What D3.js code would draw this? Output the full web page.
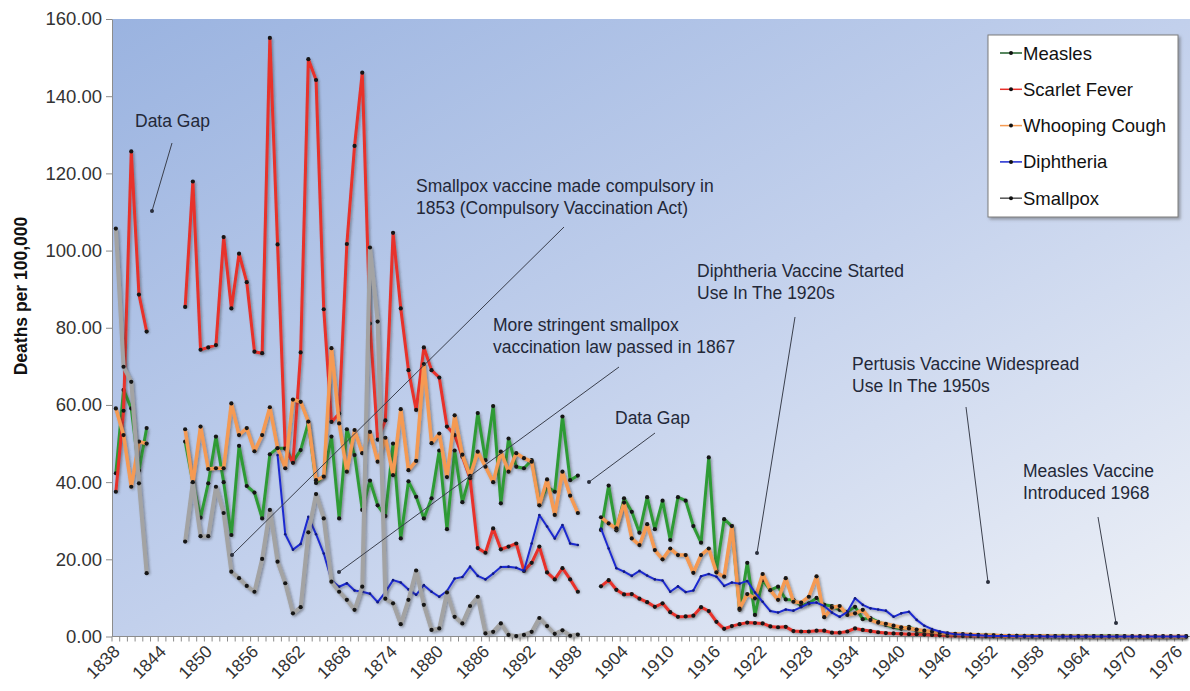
<!DOCTYPE html>
<html><head><meta charset="utf-8">
<script src="https://cdn.jsdelivr.net/npm/d3@7"></script>
<style>body{margin:0;background:#fff;} svg{display:block;font-family:"Liberation Sans",Arial,sans-serif;}</style>
</head><body><svg id="c" width="1190" height="691"></svg>
<script>
// ---------- DATA ----------
const firstYear = 1838, lastYear = 1977;
const years = d3.range(firstYear, lastYear + 1);
const tickYears = [1838,1844,1850,1856,1862,1868,1874,1880,1886,1892,1898,1904,1910,1916,1922,1928,1934,1940,1946,1952,1958,1964,1970,1976];
const yTicks = [0,20,40,60,80,100,120,140,160];
const seriesNames = ["Measles","Scarlet Fever","Whooping Cough","Diphtheria","Smallpox"];

// deaths per 100,000, one value per year from 1838 (null = no data)
const measles = [
 42.3,63.9,59.1,43.0,54.0,null,null,null,null,50.5,
 40.0,30.8,39.7,51.8,40.0,26.3,49.4,39.0,37.3,30.6,
 47.2,48.8,48.8,45.3,48.3,55.4,39.8,41.6,51.8,30.6,
 53.7,47.0,32.8,40.4,34.0,31.2,50.0,25.4,40.2,36.2,
 30.6,35.8,48.2,27.8,48.2,34.8,41.8,57.9,45.7,59.7,
 34.5,51.3,44.0,43.6,45.7,34.5,38.8,37.5,57.0,40.5,
 41.7,null,null,27.6,39.1,27.5,35.8,32.3,26.9,36.1,
 27.8,35.2,25.0,36.1,35.2,28.6,24.3,46.4,17.0,30.4,
 28.6,6.9,19.1,5.6,14.6,12.0,12.9,9.6,9.5,8.0,
 8.6,10.0,8.2,7.9,6.9,6.4,7.7,4.5,4.8,3.8,
 3.0,2.4,2.0,2.5,1.5,1.2,1.0,0.8,0.6,0.6,
 0.5,0.4,0.3,0.4,0.3,0.2,0.2,0.2,0.2,0.1,
 0.1,0.1,0.1,0.2,0.1,0.1,0.1,0.1,0.1,0.1,
 0.1,0.05,0.03,0.02,0.02,0.02,0.01,0.01,0.01,0.01];
const scarlet = [
 37.5,58.5,125.7,88.6,79.0,null,null,null,null,85.4,
 117.9,74.3,74.9,75.5,103.5,85.0,99.2,91.8,73.8,73.4,
 155.1,101.6,48.7,45.0,73.6,149.6,144.2,84.8,55.6,57.8,
 101.7,127.1,146.1,81.1,51.0,56.0,104.6,85.0,69.0,58.7,
 74.9,69.0,67.1,54.4,52.2,46.6,41.0,22.9,21.7,28.0,
 22.6,23.3,24.1,17.0,19.1,23.3,16.6,14.8,17.7,14.8,
 11.6,null,null,13.0,14.6,12.1,10.9,11.0,9.8,8.9,
 7.7,8.6,6.3,5.1,5.2,5.4,7.6,6.6,3.8,2.0,
 2.7,3.2,3.6,3.5,3.4,2.6,2.4,2.5,1.4,1.3,
 1.3,1.5,1.5,1.0,1.0,1.3,2.1,1.7,1.4,1.1,
 0.9,0.8,0.7,0.6,0.6,0.5,0.4,0.3,0.2,0.2,
 0.1,0.1,0.1,0.05,0.05,0.05,0.03,0.03,0.03,0.02,
 0.02,0.02,0.02,0.02,0.02,0.02,0.02,0.02,0.02,0.02,
 0.01,0.01,0.01,0.01,0.01,0.01,0.01,0.01,0.01,0.01];
const whooping = [
 59.1,52.2,38.8,50.5,50.0,null,null,null,null,53.7,
 39.7,54.4,43.4,43.6,43.6,60.4,52.2,54.0,48.0,52.2,
 59.4,48.8,43.6,61.4,60.8,55.7,40.5,41.4,74.7,55.2,
 42.7,53.5,47.5,53.0,45.3,51.5,41.8,58.9,43.1,45.5,
 70.6,50.1,52.6,41.3,57.3,47.1,41.6,47.9,44.0,40.0,
 47.9,42.7,47.5,46.2,45.3,34.0,40.7,31.5,42.7,36.5,
 32.0,null,null,30.9,29.3,28.0,34.7,25.4,23.7,29.1,
 22.4,20.0,22.8,21.1,21.1,16.5,21.1,22.8,16.6,15.5,
 28.6,7.2,11.0,9.9,16.2,12.0,9.5,15.1,9.0,8.8,
 10.3,15.6,5.0,7.5,7.9,5.6,6.0,6.9,4.3,3.6,
 3.3,2.8,2.4,2.1,1.8,1.5,1.3,1.0,0.8,0.7,
 0.6,0.5,0.4,0.3,0.3,0.2,0.2,0.15,0.1,0.1,
 0.1,0.1,0.08,0.06,0.05,0.05,0.04,0.03,0.03,0.02,
 0.02,0.02,0.02,0.02,0.02,0.02,0.02,0.02,0.02,0.02];
const diphtheria = [
 null,null,null,null,null,null,null,null,null,null,
 null,null,null,null,null,null,null,null,null,null,
 null,47.0,26.5,22.5,24.0,31.0,26.5,21.5,14.6,12.9,
 13.8,11.9,11.6,11.1,8.9,11.5,14.6,14.0,12.2,10.8,
 13.3,11.6,10.3,11.8,15.0,15.4,18.1,15.7,14.8,16.3,
 18.0,18.1,17.8,17.0,24.1,31.5,28.5,25.4,28.9,24.1,
 23.7,null,null,28.0,22.8,17.7,16.8,15.7,17.0,15.8,
 14.8,14.5,11.6,13.0,11.5,11.9,15.6,16.2,15.5,13.1,
 14.0,13.7,14.4,11.4,9.0,6.6,6.2,7.0,6.7,7.6,
 8.6,8.8,7.9,6.2,5.1,6.4,9.9,8.2,7.3,7.0,
 6.7,5.1,6.0,6.4,4.3,2.8,1.9,1.3,0.9,0.6,
 0.5,0.4,0.3,0.2,0.15,0.1,0.1,0.08,0.06,0.05,
 0.04,0.03,0.03,0.02,0.02,0.02,0.02,0.02,0.02,0.02,
 0.01,0.01,0.01,0.01,0.01,0.01,0.01,0.01,0.01,0.01];
const smallpox = [
 105.7,69.9,66.0,39.7,16.4,null,null,null,null,24.6,
 40.0,26.0,26.0,38.8,32.0,16.8,15.1,13.1,11.6,20.1,
 32.8,19.4,13.8,6.0,7.6,27.0,36.9,30.6,14.2,11.6,
 9.5,6.9,12.9,100.8,81.6,9.8,8.6,3.2,9.5,17.1,
 8.2,1.7,2.1,11.4,5.1,3.4,7.9,10.3,0.8,1.2,
 3.4,0.4,0.1,0.4,1.2,4.8,2.7,0.7,1.6,0.2,
 0.5];

// ---------- LAYOUT ----------
const svg = d3.select('#c');
const plot = {left: 112, right: 1190, top: 19, bottom: 636.5};
const x = d3.scaleBand().domain(years).range([plot.left, plot.right]).paddingInner(0).paddingOuter(0);
const xc = yr => x(yr) + x.bandwidth() / 2;
const y = d3.scaleLinear().domain([0, 160]).range([plot.bottom, plot.top]);

const defs = svg.append('defs');
const g = defs.append('linearGradient').attr('id', 'bg').attr('x1', 0).attr('y1', 0).attr('x2', 1).attr('y2', 1);
g.append('stop').attr('offset', '0%').attr('stop-color', '#9ab3e0');
g.append('stop').attr('offset', '50%').attr('stop-color', '#c2d0ec');
g.append('stop').attr('offset', '100%').attr('stop-color', '#eef1f7');
const sh = defs.append('filter').attr('id', 'sh').attr('x', '-5%').attr('y', '-5%').attr('width', '110%').attr('height', '110%');
sh.append('feDropShadow').attr('dx', 1.5).attr('dy', 1.5).attr('stdDeviation', 1).attr('flood-color', '#333').attr('flood-opacity', 0.45);
const sh2 = defs.append('filter').attr('id', 'sh2').attr('x', '-10%').attr('y', '-10%').attr('width', '130%').attr('height', '130%');
sh2.append('feDropShadow').attr('dx', 2).attr('dy', 2).attr('stdDeviation', 1.5).attr('flood-color', '#555').attr('flood-opacity', 0.5);

svg.append('rect').attr('x', plot.left).attr('y', plot.top)
  .attr('width', plot.right - plot.left).attr('height', plot.bottom - plot.top)
  .attr('fill', 'url(#bg)');

// Y axis
const yAxis = svg.append('g').attr('transform', `translate(${plot.left},0)`)
  .call(d3.axisLeft(y).tickValues(yTicks).tickFormat(d3.format('.2f')).tickSize(6).tickSizeOuter(0));
yAxis.select('.domain').attr('stroke', '#8c8c8c');
yAxis.selectAll('.tick line').attr('stroke', '#8c8c8c');
yAxis.selectAll('.tick text').attr('font-size', 18.5).attr('fill', '#333').attr('x', -10)
  .attr('font-family', '"Liberation Sans",Arial,sans-serif');

svg.append('text').attr('transform', 'translate(27,296) rotate(-90)')
  .attr('text-anchor', 'middle').attr('font-size', 17.5).attr('font-weight', 'bold').attr('fill', '#111')
  .text('Deaths per 100,000');

// X axis
const xg = svg.append('g');
xg.append('line').attr('x1', plot.left).attr('x2', plot.right).attr('y1', plot.bottom).attr('y2', plot.bottom)
  .attr('stroke', '#8c8c8c');
xg.selectAll('line.tk').data(years).enter().append('line').attr('class', 'tk')
  .attr('x1', d => x(d)).attr('x2', d => x(d)).attr('y1', plot.bottom).attr('y2', plot.bottom + 5)
  .attr('stroke', '#8c8c8c');
xg.selectAll('text').data(tickYears).enter().append('text')
  .attr('transform', d => `translate(${xc(d) + 5},${plot.bottom + 16}) rotate(-45)`)
  .attr('text-anchor', 'end').attr('font-size', 17.5).attr('fill', '#333')
  .text(d => d);

// series
const series = [
  {name: seriesNames[0], vals: measles, color: '#2f9b35', w: 3},
  {name: seriesNames[1], vals: scarlet, color: '#e8302a', w: 3},
  {name: seriesNames[2], vals: whooping, color: '#f59a52', w: 3.5},
  {name: seriesNames[3], vals: diphtheria, color: '#1d2ad0', w: 2},
  {name: seriesNames[4], vals: smallpox, color: '#a3a3a3', w: 4}
];
const line = d3.line().defined(d => d.v != null).x(d => xc(d.yr)).y(d => y(d.v));
series.forEach(s => {
  const pts = years.map((yr, i) => ({yr, v: s.vals[i] == null ? null : s.vals[i]}));
  const gs = svg.append('g');
  gs.append('path').datum(pts).attr('d', line).attr('fill', 'none')
    .attr('stroke', s.color).attr('stroke-width', s.w).attr('stroke-linejoin', 'round')
    .attr('filter', 'url(#sh)');
  gs.selectAll('circle').data(pts.filter(d => d.v != null)).enter().append('circle')
    .attr('cx', d => xc(d.yr)).attr('cy', d => y(d.v)).attr('r', s.name === 'Diphtheria' ? 1.3 : 2.1)
    .attr('fill', s.name === 'Diphtheria' ? '#101a80' : '#161616');
});

// annotations
const notes = [
  {lines: ['Data Gap'], tx: 135, ty: 127, from: [172, 143], to: [152, 211]},
  {lines: ['Smallpox vaccine made compulsory in', '1853 (Compulsory Vaccination Act)'], tx: 416, ty: 192, from: [564, 227], to: [232, 555]},
  {lines: ['More stringent smallpox', 'vaccination law passed in 1867'], tx: 493, ty: 331, from: [619, 367], to: [339, 572]},
  {lines: ['Data Gap'], tx: 615, ty: 424, from: [655, 433], to: [589, 482]},
  {lines: ['Diphtheria Vaccine Started', 'Use In The 1920s'], tx: 697, ty: 277, from: [795, 317], to: [757, 553]},
  {lines: ['Pertusis Vaccine Widespread', 'Use In The 1950s'], tx: 852, ty: 370, from: [966, 407], to: [988, 582]},
  {lines: ['Measles Vaccine', 'Introduced 1968'], tx: 1023, ty: 477, from: [1098, 517], to: [1116, 623]}
];
const ng = svg.append('g');
notes.forEach(n => {
  const t = ng.append('text').attr('x', n.tx).attr('y', n.ty).attr('font-size', 17.5).attr('fill', '#232838');
  n.lines.forEach((l, i) => t.append('tspan').attr('x', n.tx).attr('dy', i === 0 ? 0 : 21.5).text(l));
  ng.append('line').attr('x1', n.from[0]).attr('y1', n.from[1]).attr('x2', n.to[0]).attr('y2', n.to[1])
    .attr('stroke', '#3a3f4c').attr('stroke-width', 1);
  ng.append('circle').attr('cx', n.to[0]).attr('cy', n.to[1]).attr('r', 2).attr('fill', '#2a2f3c');
});

// legend
const lg = svg.append('g');
lg.append('rect').attr('x', 988).attr('y', 35).attr('width', 190).attr('height', 182)
  .attr('fill', '#fff').attr('stroke', '#7d7d7d').attr('stroke-width', 1).attr('filter', 'url(#sh2)');
series.forEach((s, i) => {
  const cy = 53 + i * 36.3;
  lg.append('line').attr('x1', 1000).attr('x2', 1022).attr('y1', cy).attr('y2', cy)
    .attr('stroke', i === 0 ? '#1f5f2a' : (i === 4 ? '#555' : s.color)).attr('stroke-width', 1.5);
  lg.append('circle').attr('cx', 1011).attr('cy', cy).attr('r', 2).attr('fill', '#111');
  lg.append('text').attr('x', 1023).attr('y', cy + 6.5).attr('font-size', 18.5).attr('fill', '#111').text(s.name);
});
</script></body></html>
